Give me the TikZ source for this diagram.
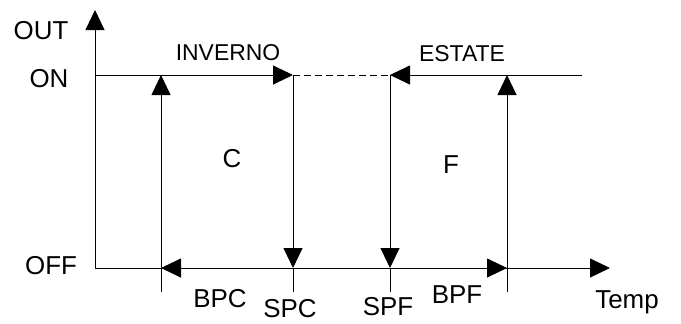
\documentclass[tikz,border=0pt]{standalone}
\usepackage{fontspec}
\setmainfont{Liberation Sans}
\usetikzlibrary{arrows.meta}

\begin{document}
\begin{tikzpicture}[x=1bp, y=-1bp, line width=0.9bp,
		arr/.style={-{Triangle[length=20bp, width=19bp]}},
		lbl/.style={inner sep=0pt, anchor=base, font=\fontsize{26}{26}\selectfont},
		mode/.style={inner sep=0pt, anchor=base, font=\fontsize{23}{23}\selectfont}]
			\useasboundingbox (0, 0) rectangle (681, 323);
			% axes
			\coordinate (org) at (95, 268);
			\coordinate (yend) at (95, 10);
			\coordinate (xend) at (610, 268);
			\coordinate (on) at (95, 75);
			\coordinate (onend) at (582, 75);
			\foreach \name/\x in {bpc/161, spc/293, spf/390, bpf/507}
			{
				\coordinate (\name T) at (\x, 75);
				\coordinate (\name O) at (\x, 268);
				\coordinate (\name B) at (\x, 292);
			}
			\draw[arr] (org) -- (yend);
			\draw[arr] (org) -- (xend);
			% inverno
			\draw[arr] (on) -- (spcT);
			\draw[arr] (spcT) -- (spcO);
			\draw (spcO) -- (spcB);
			\draw[arr] (bpcB) -- (bpcT);
			\draw[arr] (spcO) -- (bpcO);
			% estate
			\draw[dash pattern=on 7bp off 4bp] (spcT) -- (spfT);
			\draw[arr] (onend) -- (spfT);
			\draw[arr] (spfT) -- (spfO);
			\draw (spfO) -- (spfB);
			\draw[arr] (bpfB) -- (bpfT);
			\draw[arr] (spfO) -- (bpfO);
			% labels
			\node[lbl] (out) at (41, 39) {OUT};
			\node[lbl] (onl) at (49, 87) {ON};
			\node[lbl] (off) at (51, 274) {OFF};
			\node[mode] (inverno) at (228, 60) {INVERNO};
			\node[mode] (estate) at (462, 61) {ESTATE};
			\node[lbl] (c) at (232, 167) {C};
			\node[lbl] (f) at (451, 173) {F};
			\node[lbl] (bpc) at (220, 307) {BPC};
			\node[lbl] (spc) at (290, 317) {SPC};
			\node[lbl] (spf) at (388, 315) {SPF};
			\node[lbl] (bpf) at (457, 303) {BPF};
			\node[lbl] (temp) at (627, 308) {Temp};
		\end{tikzpicture}
\end{document}
